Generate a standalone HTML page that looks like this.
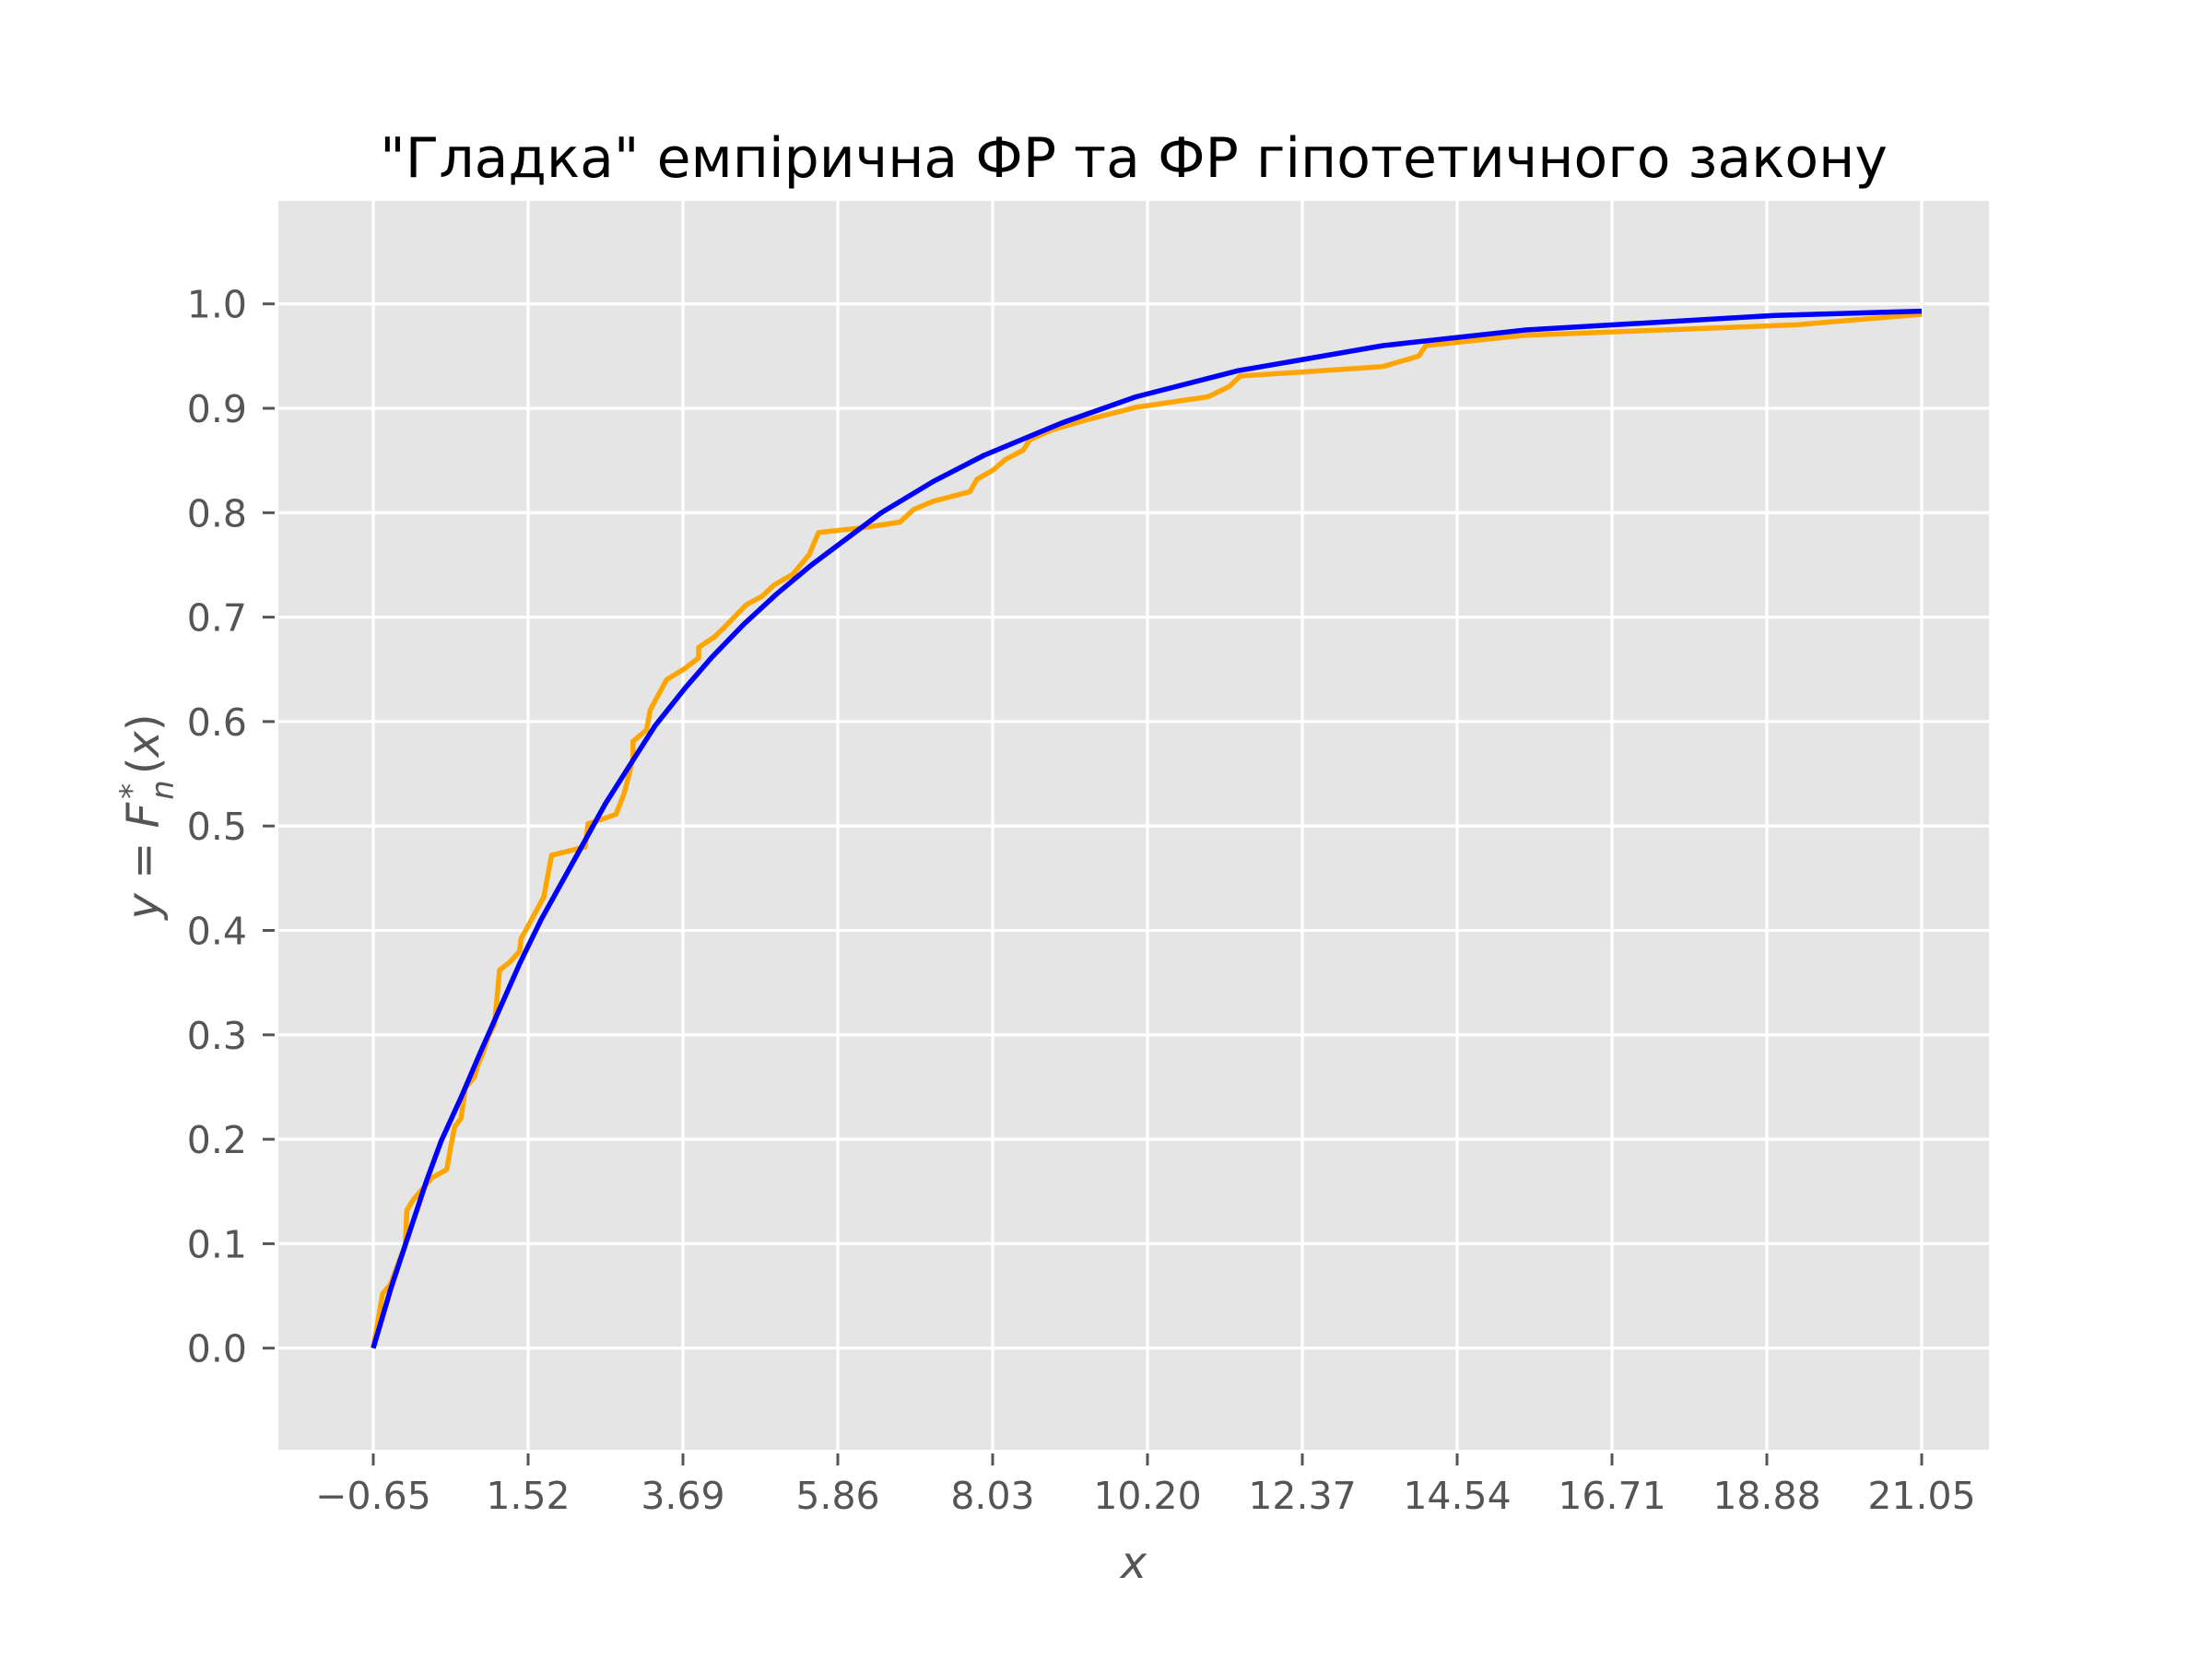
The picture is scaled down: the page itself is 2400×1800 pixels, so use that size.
<!DOCTYPE html>
<html><head><meta charset="utf-8"><style>
html,body{margin:0;padding:0;background:#fff;}
svg{display:block;}
text{font-family:"DejaVu Sans","Liberation Sans",sans-serif;}
</style></head><body>
<svg id="chart" width="2400" height="1800" viewBox="0 0 2400 1800" xmlns="http://www.w3.org/2000/svg">
<rect x="0" y="0" width="2400" height="1800" fill="#ffffff"/>
<rect x="302" y="218" width="1856" height="1355" fill="#e5e5e5"/>
<g id="grid"></g>
<g id="series"></g>
<g id="axes"></g>
<text x="1230" y="192" font-size="60" text-anchor="middle" fill="#000">"Гладка" емпірична ФР та ФР гіпотетичного закону</text>
<text x="1230" y="1712" font-size="48" font-style="italic" text-anchor="middle" fill="#555">x</text>
<text transform="translate(172,886) rotate(-90)" font-size="48" text-anchor="middle" fill="#555"><tspan font-style="italic">y</tspan> = <tspan font-style="italic">F</tspan><tspan font-size="34" dx="4" dy="-18">*</tspan><tspan font-size="34" font-style="italic" dx="-18" dy="34">n</tspan><tspan dx="6" dy="-16">(</tspan><tspan font-style="italic">x</tspan>)</text>
</svg>
<script>
const xTicks = [-0.65, 1.52, 3.69, 5.86, 8.03, 10.20, 12.37, 14.54, 16.71, 18.88, 21.05];
const xTickLabels = ["\u22120.65","1.52","3.69","5.86","8.03","10.20","12.37","14.54","16.71","18.88","21.05"];
const yTicks = [0,0.1,0.2,0.3,0.4,0.5,0.6,0.7,0.8,0.9,1.0];
const yTickLabels = ["0.0","0.1","0.2","0.3","0.4","0.5","0.6","0.7","0.8","0.9","1.0"];
const empX = [-0.65,-0.52,-0.41,-0.20,-0.18,-0.09,0.17,0.38,0.43,0.49,0.58,0.64,0.77,0.81,0.90,0.96,1.05,1.12,1.27,1.40,1.42,1.55,1.74,1.85,2.32,2.36,2.75,2.86,2.90,2.99,2.99,3.18,3.23,3.46,3.72,3.91,3.91,4.13,4.28,4.58,4.80,4.97,5.23,5.46,5.59,6.13,6.35,6.73,6.92,7.20,7.71,7.81,8.04,8.21,8.46,8.55,8.85,9.35,10.04,11.05,11.35,11.50,12.20,13.50,14.00,14.10,15.50,19.30,21.05];
const empY = [0,0.052,0.061,0.099,0.132,0.142,0.163,0.171,0.191,0.212,0.220,0.249,0.260,0.270,0.285,0.298,0.310,0.362,0.370,0.380,0.392,0.408,0.432,0.472,0.480,0.502,0.511,0.530,0.540,0.565,0.581,0.592,0.611,0.640,0.651,0.661,0.671,0.681,0.691,0.712,0.720,0.731,0.741,0.760,0.781,0.785,0.787,0.791,0.803,0.811,0.820,0.832,0.841,0.851,0.860,0.870,0.879,0.889,0.901,0.911,0.921,0.931,0.934,0.940,0.950,0.960,0.970,0.980,0.990];
const hypX = [-0.65,-0.40,-0.20,0.10,0.30,0.58,0.85,1.09,1.40,1.70,2.00,2.26,2.60,2.99,3.30,3.72,4.10,4.54,5.00,5.49,6.00,6.47,7.20,7.91,9.00,10.04,11.47,13.50,15.50,19.00,21.05];
const hypY = [0,0.058,0.099,0.161,0.198,0.240,0.283,0.320,0.368,0.410,0.447,0.479,0.521,0.563,0.596,0.632,0.662,0.693,0.722,0.750,0.776,0.800,0.830,0.855,0.886,0.911,0.936,0.960,0.975,0.989,0.993];

const NS = "http://www.w3.org/2000/svg";
function sx(v){ return 405 + (v + 0.65) * 77.42; }
function sy(v){ return 1462.7 - v * 1133; }
const grid = document.getElementById('grid');
const axes = document.getElementById('axes');
const series = document.getElementById('series');
function mk(tag, attrs, parent){ const e=document.createElementNS(NS,tag); for(const k in attrs) e.setAttribute(k,attrs[k]); parent.appendChild(e); return e; }

xTicks.forEach((v,i)=>{
  const x = sx(v);
  const g = mk('line',{x1:x,x2:x,y1:218,y2:1573,stroke:'#fff','stroke-width':3.3},grid);
  
  
  const t = mk('line',{x1:x,x2:x,y1:1577,y2:1590,stroke:'#555','stroke-width':3},axes);
  
  
  const l = mk('text',{x:x,y:1637,'font-size':41,'text-anchor':'middle',fill:'#555'},axes);
  l.textContent = xTickLabels[i];
  
  
});
yTicks.forEach((v,i)=>{
  const y = sy(v);
  const g = mk('line',{x1:302,x2:2158,y1:y,y2:y,stroke:'#fff','stroke-width':3.3},grid);
  
  
  const t = mk('line',{x1:285,x2:298,y1:y,y2:y,stroke:'#555','stroke-width':3},axes);
  
  
  const l = mk('text',{x:268,y:y+15,'font-size':41,'text-anchor':'end',fill:'#555'},axes);
  l.textContent = yTickLabels[i];
  
  
});
function pts(xs,ys){ return xs.map((x,i)=>sx(x).toFixed(1)+','+sy(ys[i]).toFixed(1)).join(' '); }
const emp = mk('polyline',{points:pts(empX,empY),fill:'none',stroke:'#ffa500','stroke-width':5.5,'stroke-linejoin':'round'},series);


const hyp = mk('polyline',{points:pts(hypX,hypY),fill:'none',stroke:'#0000ff','stroke-width':5.5,'stroke-linejoin':'round'},series);


</script>
</body></html>
